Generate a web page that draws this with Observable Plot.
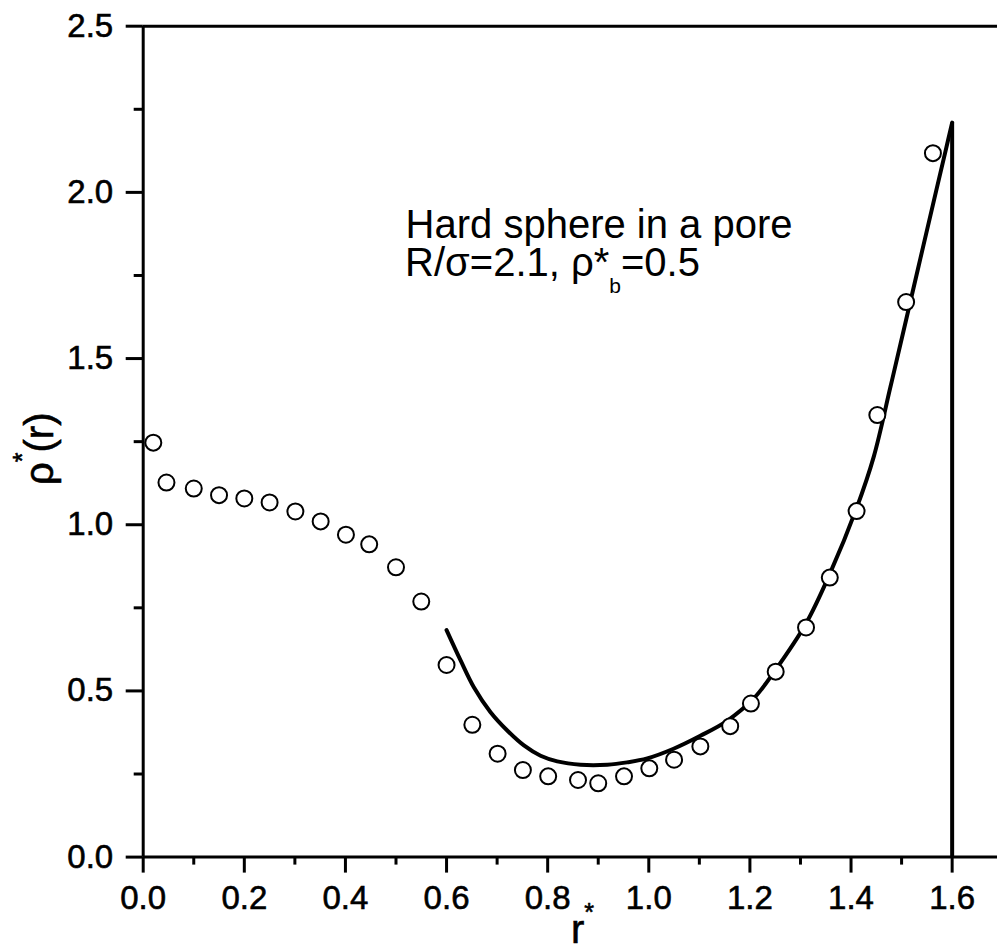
<!DOCTYPE html>
<html>
<head>
<meta charset="utf-8">
<script src="https://cdn.jsdelivr.net/npm/d3@7"></script>
<script src="https://cdn.jsdelivr.net/npm/@observablehq/plot@0.6"></script>
<style>
  html, body { margin: 0; padding: 0; background: #fff; }
  svg { display: block; }
</style>
</head>
<body>
<div id="chart"></div>
<script>
// ---- data ----
const dotX = [0.020, 0.046, 0.100, 0.150, 0.200, 0.250, 0.301, 0.351, 0.401, 0.447, 0.500, 0.550, 0.600,
              0.651, 0.701, 0.751, 0.801, 0.860, 0.900, 0.951, 1.001, 1.050, 1.102, 1.161, 1.202, 1.251,
              1.311, 1.358, 1.411, 1.452, 1.509, 1.562];
const dotY = [1.247, 1.127, 1.109, 1.089, 1.079, 1.067, 1.040, 1.010, 0.970, 0.941, 0.872, 0.769, 0.578,
              0.398, 0.311, 0.262, 0.243, 0.232, 0.222, 0.243, 0.267, 0.293, 0.333, 0.394, 0.462, 0.558,
              0.691, 0.841, 1.041, 1.330, 1.670, 2.118];

const curveX = [0.600, 0.628, 0.654, 0.687, 0.720, 0.753, 0.786, 0.819, 0.865, 0.918, 0.957, 0.997, 1.049,
                1.102, 1.155, 1.208, 1.250, 1.311, 1.358, 1.411, 1.445, 1.478, 1.509, 1.537, 1.564, 1.587, 1.600];
const curveY = [0.683, 0.591, 0.511, 0.436, 0.381, 0.336, 0.305, 0.288, 0.278, 0.278, 0.285, 0.297, 0.326,
                0.365, 0.410, 0.478, 0.562, 0.703, 0.852, 1.050, 1.205, 1.415, 1.617, 1.800, 1.976, 2.125, 2.210];
// pore wall (vertical drop of the theory curve)
const wallX = [1.600, 1.600];
const wallY = [2.210, 0.000];

const xMajorTicks = [0.0, 0.2, 0.4, 0.6, 0.8, 1.0, 1.2, 1.4, 1.6];
const xMinorTicks = [0.1, 0.3, 0.5, 0.7, 0.9, 1.1, 1.3, 1.5];
const yMajorTicks = [0.0, 0.5, 1.0, 1.5, 2.0, 2.5];
const yMinorTicks = [0.25, 0.75, 1.25, 1.75, 2.25];

const xLabelParts = ["r", "*"];
const yLabelParts = ["ρ", "*", "(r)"];
const annotationLine1 = "Hard sphere in a pore";
const annotationLine2Parts = ["R/σ=2.1, ρ*", "b", "=0.5"];
const annotationAt = [0.519, 1.864];

// ---- build tables ----
const dots = dotX.map((x, i) => ({x, y: dotY[i]}));
const curve = curveX.map((x, i) => ({x, y: curveY[i]}));
const wall = wallX.map((x, i) => ({x, y: wallY[i]}));

const FONT = "'Liberation Sans', Arial, Helvetica, sans-serif";
const fmt = d3.format(".1f");

const plot = Plot.plot({
  width: 997,
  height: 952,
  marginLeft: 142.7,
  marginRight: 0,
  marginTop: 25.7,
  marginBottom: 95.4,
  style: {fontFamily: FONT, fontSize: "33px", background: "#fff", color: "#000"},
  x: {domain: [0, 1.6897]},
  y: {domain: [0, 2.5]},
  marks: [
    // frame lines
    Plot.ruleY([0], {stroke: "#000", strokeWidth: 3}),
    Plot.ruleY([2.5], {stroke: "#000", strokeWidth: 3}),
    Plot.ruleX([0], {y1: 0, y2: 2.5, stroke: "#000", strokeWidth: 3}),
    // ticks
    Plot.axisX(xMinorTicks, {tickSize: 8, strokeWidth: 3, text: null, label: null}),
    Plot.axisX(xMajorTicks, {tickSize: 16, tickPadding: 12, strokeWidth: 3, fontSize: 33,
                             tickFormat: fmt, label: null}),
    Plot.axisY(yMinorTicks, {tickSize: 9, strokeWidth: 3, text: null, label: null}),
    Plot.axisY(yMajorTicks, {tickSize: 17, tickPadding: 13, strokeWidth: 3, fontSize: 33,
                             tickFormat: fmt, label: null}),
    // theory curve and wall
    Plot.line(curve, {x: "x", y: "y", stroke: "#000", strokeWidth: 4, curve: "catmull-rom"}),
    Plot.line(wall, {x: "x", y: "y", stroke: "#000", strokeWidth: 4, strokeLinecap: "butt"}),
    // simulation points
    Plot.dot(dots, {x: "x", y: "y", r: 8, stroke: "#000", strokeWidth: 2, fill: "#fff"}),
    // annotation first line
    Plot.text([annotationLine1], {x: () => annotationAt[0], y: () => annotationAt[1], text: d => d,
      textAnchor: "start", lineAnchor: "bottom", fontSize: 40, fill: "#000"})
  ]
});

document.getElementById("chart").appendChild(plot);

const svg = d3.select(plot);
// enforce tick styling (thick black ticks, slightly heavier tick labels)
svg.selectAll('[aria-label*="tick"] path, [aria-label*="tick"] line')
  .style("stroke-width", "3px").style("stroke", "#000");
svg.selectAll('[aria-label*="tick label"] text')
  .style("font-size", "33px").style("fill", "#000")
  .style("stroke", "#000").style("stroke-width", "0.6px");

// ---- texts with sub/superscripts ----
const sx = plot.scale("x"), sy = plot.scale("y");
const g = svg.append("g").attr("font-family", FONT).attr("fill", "#000").attr("text-anchor", "start");

// annotation line 2
const ax = sx.apply(annotationAt[0]);
const ay = sy.apply(annotationAt[1]) + 38.5;
const t2 = g.append("text").attr("x", ax).attr("y", ay).attr("font-size", 40);
t2.append("tspan").text(annotationLine2Parts[0]);
t2.append("tspan").attr("font-size", 21).attr("dy", 17).text(annotationLine2Parts[1]);
t2.append("tspan").attr("font-size", 40).attr("dy", -17).text(annotationLine2Parts[2]);

// x axis label
const xl = g.append("text").attr("x", 571).attr("y", 943).attr("font-size", 40)
  .attr("stroke", "#000").attr("stroke-width", 0.6);
xl.append("tspan").text(xLabelParts[0]);
xl.append("tspan").attr("font-size", 25).attr("dy", -22).text(xLabelParts[1]);

// y axis label
const yl = g.append("text").attr("transform", "translate(53,485) rotate(-90)").attr("font-size", 40)
  .attr("stroke", "#000").attr("stroke-width", 0.6);
yl.append("tspan").text(yLabelParts[0]);
yl.append("tspan").attr("font-size", 25).attr("dy", -22).text(yLabelParts[1]);
yl.append("tspan").attr("font-size", 40).attr("dy", 22).text(yLabelParts[2]);
</script>
</body>
</html>
